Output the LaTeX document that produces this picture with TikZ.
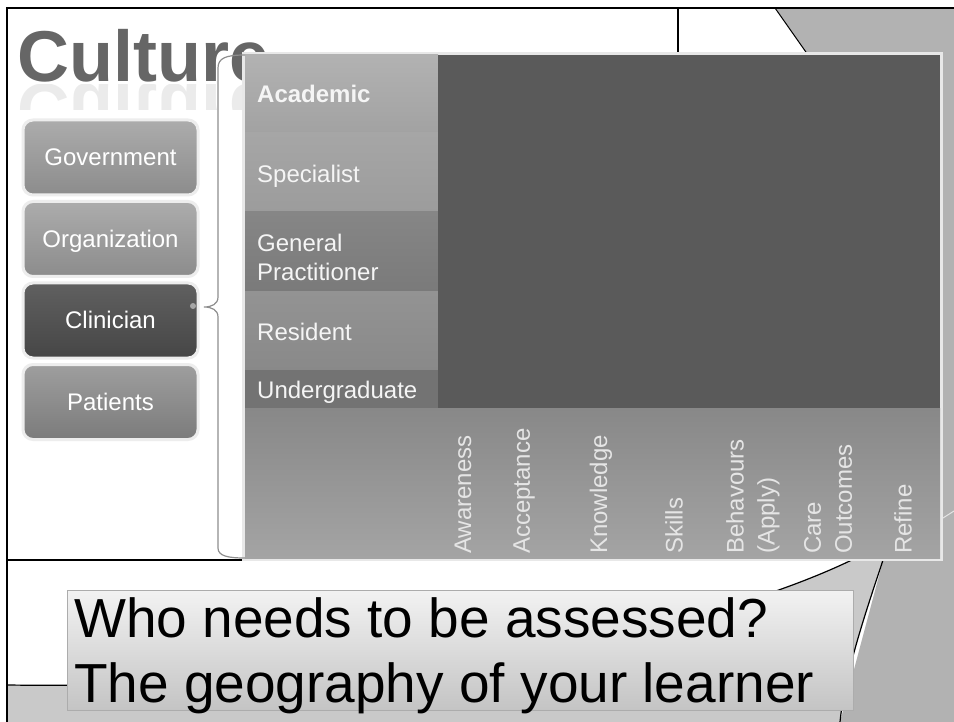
\documentclass[tikz,border=0pt]{standalone}
\usepackage{fontspec}
\setmainfont{Liberation Sans}
\usetikzlibrary{positioning}

\definecolor{slidegray}{HTML}{B2B2B2}
\definecolor{curlgray}{HTML}{C9C9C9}
\definecolor{titlegray}{HTML}{666666}
\definecolor{btntop}{HTML}{ACACAC}
\definecolor{btnbottom}{HTML}{8C8C8C}
\definecolor{clintop}{HTML}{606060}
\definecolor{clinbottom}{HTML}{464646}
\definecolor{darkblock}{HTML}{5A5A5A}
\definecolor{bracegray}{HTML}{8E8E8E}

\tikzset{
  btn/.style={rectangle,
              rounded corners=10pt,
              draw=gray!14,
              line width=3pt,
              minimum width=175pt,
              minimum height=75pt,
              text=white,
              text height=17pt,
              text depth=0pt,
              font=\fontsize{24}{28}\selectfont},
  band/.style={rectangle,
               inner sep=0pt,
               outer sep=0pt},
  rowlabel/.style={anchor=base west,
                   inner sep=0pt,
                   text=white!96!black,
                   font=\fontsize{24}{29}\selectfont},
  steplabel/.style={rotate=90,
                    anchor=west,
                    align=left,
                    inner sep=0pt,
                    text=white!90!black,
                    font=\fontsize{24}{31}\selectfont}
}

\begin{document}
\begin{tikzpicture}[x=1pt, y=-1pt]

    \useasboundingbox (0,0) rectangle (954,722);
    \fill[white] (0,0) rectangle (954,722);

    % slide background
    \coordinate (curla) at (858,557);
    \coordinate (curlb) at (884,557);
    \fill[slidegray] (775,8) -- (954,8) -- (954,722) -- (840,722) -- (curlb) -- (808,55) -- cycle;
    \fill[curlgray] (7,685) .. controls (400,690) and (700,635) .. (curla) -- (curlb)
        .. controls (870,600) and (845,670) .. (840,722) -- (7,722) -- cycle;
    \draw[line width=1.2pt] (7,685) .. controls (400,690) and (700,635) .. (curla);
    \draw[line width=1.2pt] (curlb) .. controls (870,600) and (845,670) .. (840,722);
    \draw[line width=1pt] (775,8) -- (808,55);
    \draw[white!80!gray, line width=1pt] (943,518) -- (954,511);

    % slide border and picture frame
    \draw[line width=1.2pt] (7,8) -- (954,8);
    \draw[line width=2pt] (7,8) -- (7,722);
    \draw[line width=1.2pt] (7,8) rectangle (678,560);

    % title
    \node[anchor=base west,
          inner sep=0pt,
          text=titlegray,
          font=\fontsize{72}{72}\selectfont\bfseries
          ] (title) at (17,82) {Culture};
    \begin{scope}
        \clip (10,85) rectangle (300,110);
        \node[anchor=base west,
              inner sep=0pt,
              opacity=0.13,
              text=titlegray,
              font=\fontsize{72}{72}\selectfont\bfseries
              ] (titlemirror) at (17,85) {\scalebox{1}[-1]{Culture}};
    \end{scope}

    % levels
    \node[btn, top color=btntop, bottom color=btnbottom] (gov) at (110.5,157.5) {Government};
    \node[btn, top color=btntop, bottom color=btnbottom] (org) at (110.5,239) {Organization};
    \node[btn, top color=clintop, bottom color=clinbottom] (clin) at (110.5,320.5) {Clinician};
    \node[btn, top color=btntop!92!black, bottom color=btnbottom!88!black] (pat) at (110.5,402) {Patients};
    \fill[gray!70] (193,306) circle[radius=3pt];

    % chart
    \node[rectangle,
          draw=gray!18,
          line width=3pt,
          inner sep=0pt,
          minimum width=698pt,
          minimum height=506pt
          ] (chart) at (592.5,306.5) {};

    \node[band, top color={rgb,255:red,178;green,178;blue,178}, bottom color={rgb,255:red,162;green,162;blue,162},
          minimum width=193pt, minimum height=78pt] (academic) at (341.5,94) {};
    \node[band, top color={rgb,255:red,166;green,166;blue,166}, bottom color={rgb,255:red,156;green,156;blue,156},
          minimum width=193pt, minimum height=79pt] (specialist) at (341.5,172.5) {};
    \node[band, top color={rgb,255:red,134;green,134;blue,134}, bottom color={rgb,255:red,122;green,122;blue,122},
          minimum width=193pt, minimum height=80pt] (gp) at (341.5,252) {};
    \node[band, top color={rgb,255:red,147;green,147;blue,147}, bottom color={rgb,255:red,137;green,137;blue,137},
          minimum width=193pt, minimum height=78pt] (resident) at (341.5,331) {};
    \node[band, fill={rgb,255:red,115;green,115;blue,115},
          minimum width=193pt, minimum height=38pt] (undergrad) at (341.5,389) {};
    \node[band, fill=darkblock,
          minimum width=502pt, minimum height=353pt] (grid) at (689,231.5) {};
    \node[band, top color={rgb,255:red,136;green,136;blue,136}, bottom color={rgb,255:red,164;green,164;blue,164},
          minimum width=695pt, minimum height=150pt] (steps) at (592.5,483) {};

    \node[rowlabel, font=\fontsize{24}{29}\selectfont\bfseries] (academiclabel) at (257,103) {Academic};
    \node[rowlabel] (specialistlabel) at (257,183) {Specialist};
    \node[rowlabel, anchor=west, align=left] (gplabel) at (257,257) {General\\Practitioner};
    \node[rowlabel] (residentlabel) at (257,341) {Resident};
    \node[rowlabel] (undergradlabel) at (257,398) {Undergraduate};

    \node[steplabel] (awareness) at (463,554) {Awareness};
    \node[steplabel] (acceptance) at (524,554) {Acceptance};
    \node[steplabel] (knowledge) at (601,554) {Knowledge};
    \node[steplabel] (skills) at (674,554) {Skills};
    \node[steplabel] (behaviours) at (753,554) {Behavours\\(Apply)};
    \node[steplabel] (outcomes) at (828,554) {Care\\Outcomes};
    \node[steplabel] (refine) at (903,554) {Refine};

    % brace from clinician to the chart
    \coordinate (cusp) at (204,307);
    \draw[bracegray, line width=1.2pt]
        (academic.north west) .. controls (226,55) and (218,58) .. (218,68)
        -- (218,297) .. controls (218,304) and (212,307) .. (cusp)
        .. controls (212,307) and (218,310) .. (218,317)
        -- (218,548) .. controls (218,556) and (228,558) .. (steps.south west);

    % question box
    \node[rectangle,
          draw=gray!65,
          top color=white!95!black,
          bottom color={rgb,255:red,196;green,196;blue,196},
          inner sep=0pt,
          minimum width=786pt,
          minimum height=120pt
          ] (question) at (460,650) {};
    \node[anchor=base west,
          align=left,
          inner sep=0pt,
          font=\fontsize{55}{65}\selectfont
          ] (questiontext) at (74,702) {Who needs to be assessed?\\The geography of your learner};

\end{tikzpicture}
\end{document}
